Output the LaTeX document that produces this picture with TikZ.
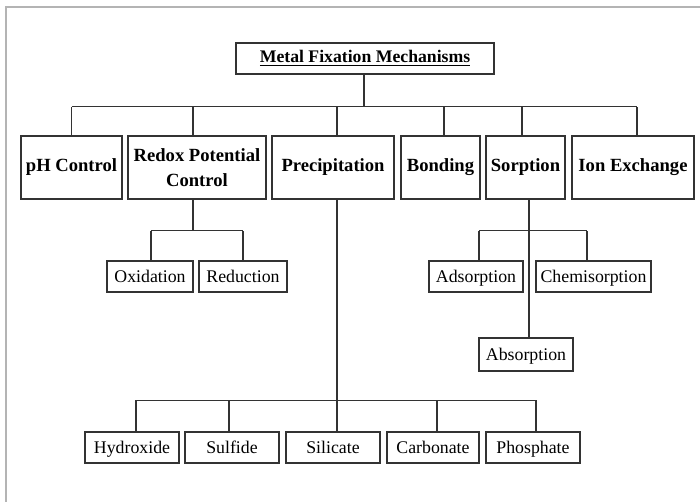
\documentclass[tikz,border=0pt]{standalone}
\usepackage{fontspec}
\setmainfont{Liberation Serif}
\newcommand\myul[1]{\setbox0\hbox{#1}\rlap{\rule[-3.5pt]{\wd0}{1.8pt}}\box0}
\definecolor{ln}{HTML}{333333}
\definecolor{frm}{HTML}{B4B4B4}
\begin{document}
\begin{tikzpicture}[x=1pt,y=-1pt,
  box/.style={draw=ln,line width=1.3pt,inner sep=0pt,align=center,text=black},
  topbox/.style={box,minimum height=63pt,font=\bfseries\fontsize{18.6}{25}\selectfont},
  onel/.style={text height=12.5pt,text depth=4pt},
  subbox/.style={box,minimum height=31pt,font=\fontsize{17.8}{21}\selectfont,text height=14pt,text depth=2.5pt},
  conn/.style={draw=ln,line width=1.3pt}]
\useasboundingbox (0,0) rectangle (700,501);
\fill[white] (0,0) rectangle (700,501);
\draw[frm,line width=2.6pt] (6,512) -- (6,7) -- (712,7);
% title
\node[box,minimum width=258pt,minimum height=31pt,font=\bfseries\fontsize{17.7}{21}\selectfont] (title) at (365,58.5) {\myul{Metal Fixation Mechanisms}};
% level 1
\node[topbox,onel,minimum width=101pt] (ph) at (71.5,167.5) {pH Control};
\node[topbox,minimum width=138pt] (redox) at (197,167.5) {Redox Potential\\Control};
\node[topbox,onel,minimum width=122pt] (precip) at (333,167.5) {Precipitation};
\node[topbox,onel,minimum width=79pt] (bond) at (440.5,167.5) {Bonding};
\node[topbox,onel,minimum width=79pt] (sorp) at (525.5,167.5) {Sorption};
\node[topbox,onel,minimum width=122pt] (ionex) at (633,167.5) {Ion Exchange};
% level 2
\node[subbox,minimum width=86pt] (oxi) at (150,276.5) {Oxidation};
\node[subbox,minimum width=88pt] (red) at (243,276.5) {Reduction};
\node[subbox,minimum width=94pt] (ads) at (476,276.5) {Adsorption};
\node[subbox,minimum width=115pt] (chem) at (593.5,276.5) {Chemisorption};
\node[subbox,minimum width=94pt,minimum height=33pt] (abso) at (526,354.5) {Absorption};
% bottom row
\node[subbox,minimum width=94pt] (hyd) at (132,447.5) {Hydroxide};
\node[subbox,minimum width=94pt] (sulf) at (232,447.5) {Sulfide};
\node[subbox,minimum width=94pt] (sil) at (333,447.5) {Silicate};
\node[subbox,minimum width=92pt] (carb) at (433,447.5) {Carbonate};
\node[subbox,minimum width=94pt] (phos) at (533,447.5) {Phosphate};
% bus coordinates
\coordinate (b1) at ([xshift=-1pt,yshift=-32pt]title.south);
\coordinate (b2) at ([xshift=-4pt,yshift=-31pt]redox.south);
\coordinate (b3) at ([xshift=3.5pt,yshift=-31pt]sorp.south);
\coordinate (b4) at ([xshift=4pt,yshift=31pt]sil.north);
% connectors level 1
\draw[conn] (title.south -| b1) -- (b1);
\draw[conn] (ph.north |- b1) -- ([xshift=4pt]ionex.north |- b1);
\draw[conn] (ph.north) -- (ph.north |- b1);
\draw[conn] ([xshift=-4pt]redox.north) -- ([xshift=-4pt]redox.north |- b1);
\draw[conn] ([xshift=4pt]precip.north) -- ([xshift=4pt]precip.north |- b1);
\draw[conn] ([xshift=3.5pt]bond.north) -- ([xshift=3.5pt]bond.north |- b1);
\draw[conn] ([xshift=-3.5pt]sorp.north) -- ([xshift=-3.5pt]sorp.north |- b1);
\draw[conn] ([xshift=4pt]ionex.north) -- ([xshift=4pt]ionex.north |- b1);
% redox
\draw[conn] (redox.south -| b2) -- (b2);
\draw[conn] ([xshift=1pt]oxi.north |- b2) -- (red.north |- b2);
\draw[conn] ([xshift=1pt]oxi.north) -- ([xshift=1pt]oxi.north |- b2);
\draw[conn] (red.north) -- (red.north |- b2);
% sorption
\draw[conn] (sorp.south -| b3) -- (abso.north -| b3);
\draw[conn] ([xshift=3pt]ads.north |- b3) -- ([xshift=-6.5pt]chem.north |- b3);
\draw[conn] ([xshift=3pt]ads.north) -- ([xshift=3pt]ads.north |- b3);
\draw[conn] ([xshift=-6.5pt]chem.north) -- ([xshift=-6.5pt]chem.north |- b3);
% precipitation
\draw[conn] (precip.south -| b4) -- (sil.north -| b4);
\draw[conn] ([xshift=4pt]hyd.north |- b4) -- ([xshift=3pt]phos.north |- b4);
\draw[conn] ([xshift=4pt]hyd.north) -- ([xshift=4pt]hyd.north |- b4);
\draw[conn] ([xshift=-3pt]sulf.north) -- ([xshift=-3pt]sulf.north |- b4);
\draw[conn] ([xshift=4pt]carb.north) -- ([xshift=4pt]carb.north |- b4);
\draw[conn] ([xshift=3pt]phos.north) -- ([xshift=3pt]phos.north |- b4);
\end{tikzpicture}
\end{document}
